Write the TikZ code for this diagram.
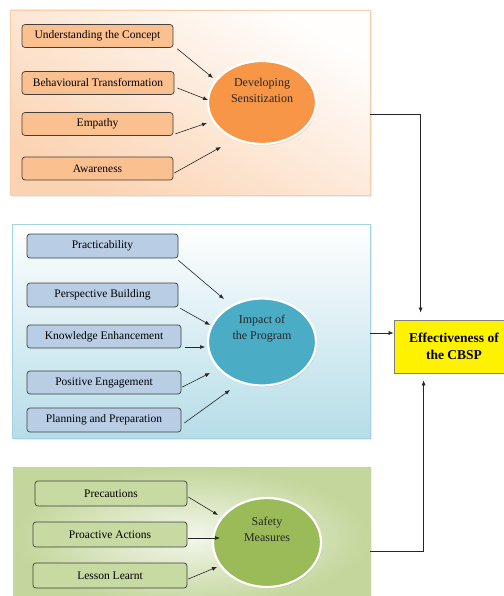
\documentclass[tikz,border=0pt]{standalone}
\usepackage{fontspec}
\setmainfont{Liberation Serif}
\usepackage{tikz}
\usetikzlibrary{positioning}
\usetikzlibrary{shapes.geometric}
\usetikzlibrary{shadows}
\usetikzlibrary{arrows.meta}
\usepackage{xcolor}

\definecolor{peach}{HTML}{FBD3B2}
\definecolor{peachline}{HTML}{F8CDAA}
\definecolor{orangebox}{HTML}{FAC090}
\definecolor{orangeoval}{HTML}{F79646}
\definecolor{skyblue}{HTML}{B6DDE8}
\definecolor{skyline}{HTML}{A5D2E2}
\definecolor{bluebox}{HTML}{B9CDE5}
\definecolor{tealoval}{HTML}{4BACC6}
\definecolor{olive}{HTML}{C3D69B}
\definecolor{greenbox}{HTML}{C7DAA2}
\definecolor{greenoval}{HTML}{9BBB59}

\begin{document}
\begin{tikzpicture}[x=1pt,y=-1pt,
  item/.style={draw=black!75, line width=0.7pt, rounded corners=3pt,
    minimum height=23pt, inner sep=1pt, font=\fontsize{11.5}{13}\selectfont},
  oval/.style={ellipse, draw=white, line width=2.2pt, minimum width=108pt,
    inner sep=0pt, drop shadow={opacity=0.25,shadow xshift=1pt,shadow yshift=-1.5pt}},
  ovaltext/.style={align=center, font=\fontsize{12}{16}\selectfont, text=black!85},
  panel/.style={rectangle, inner sep=0pt, line width=0.6pt,
    drop shadow={opacity=0.15,shadow xshift=1.5pt,shadow yshift=-1.5pt}},
  arr/.style={-{Latex[length=5pt,width=4pt]}, line width=0.6pt, black!85}]

\useasboundingbox (0,0) rectangle (503,596);

% panels
\node[panel, draw=peachline, top color=white!97!peach, bottom color=peach, shading angle=-30,
  minimum width=360pt, minimum height=185pt] (p1) at (190,102.5) {};
\node[panel, draw=skyline, top color=white, bottom color=skyblue,
  minimum width=358pt, minimum height=214pt] (p2) at (191,331) {};
\node[panel, draw=olive, inner color=white!80!olive, outer color=olive,
  minimum width=357pt, minimum height=140pt] (p3) at (191.5,537) {};

% developing sensitization
\node[item, fill=orangebox, minimum width=151pt] (uc) at (97.5,36) {Understanding the Concept};
\node[item, fill=orangebox, minimum width=152pt] (bt) at (98,83) {Behavioural Transformation};
\node[item, fill=orangebox, minimum width=151pt] (em) at (97.5,124) {Empathy};
\node[item, fill=orangebox, minimum width=151pt] (aw) at (97.5,168.5) {Awareness};
\node[oval, fill=orangeoval, minimum height=83pt,
  label={[ovaltext, yshift=12pt]center:Developing\\Sensitization}] (dev) at (262,102.5) {};

\draw[arr] ([shift={(4,1)}]uc.south east) -- ([shift={(-49,-24.5)}]dev.center);
\draw[arr] ([shift={(3,5)}]bt.east) -- ([shift={(-54,-2.5)}]dev.center);
\draw[arr] ([shift={(2,-2)}]em.south east) -- ([shift={(-55,20.5)}]dev.center);
\draw[arr] ([shift={(1,4.5)}]aw.east) -- ([shift={(-41,44.5)}]dev.center);

% impact of the program
\node[item, fill=bluebox, minimum width=151pt, minimum height=24pt] (pr) at (102.5,246) {Practicability};
\node[item, fill=bluebox, minimum width=151pt, minimum height=24pt] (pb) at (102.5,295) {Perspective Building};
\node[item, fill=bluebox, minimum width=154pt] (ke) at (104,336.5) {Knowledge Enhancement};
\node[item, fill=bluebox, minimum width=154pt] (pe) at (104,382.5) {Positive Engagement};
\node[item, fill=bluebox, minimum width=154pt, minimum height=24pt] (pp) at (104,420) {Planning and Preparation};
\node[oval, fill=tealoval, minimum height=87pt,
  label={[ovaltext, yshift=13.5pt]center:Impact of\\the Program}] (imp) at (262,342) {};

\draw[arr] ([shift={(0,2)}]pr.south east) -- ([shift={(-38,-43)}]imp.center);
\draw[arr] ([shift={(2,1)}]pb.south east) -- ([shift={(-52,-17)}]imp.center);
\draw[arr] ([shift={(4,10.5)}]ke.east) -- ([shift={(-57,5)}]imp.center);
\draw[arr] ([shift={(1,4.5)}]pe.east) -- ([shift={(-52,31)}]imp.center);
\draw[arr] ([shift={(3,3)}]pp.east) -- ([shift={(-32,48)}]imp.center);

% safety measures
\node[item, fill=greenbox, minimum width=152pt, minimum height=25pt] (pc) at (111,493.5) {Precautions};
\node[item, fill=greenbox, minimum width=154pt, minimum height=25pt] (pa) at (110,534.5) {Proactive Actions};
\node[item, fill=greenbox, minimum width=154pt, minimum height=25pt] (ll) at (110,575.5) {Lesson Learnt};
\node[oval, fill=greenoval, minimum height=89pt,
  label={[ovaltext, yshift=13pt]center:Safety\\Measures}] (saf) at (267,542.5) {};

\draw[arr] ([shift={(1,3.5)}]pc.east) -- ([shift={(-49,-27.5)}]saf.center);
\draw[arr] ([shift={(1,3.5)}]pa.east) -- ([shift={(-47,-4.5)}]saf.center);
\draw[arr] ([shift={(1,3.5)}]ll.east) -- ([shift={(-50,24.5)}]saf.center);

% effectiveness
\node[draw=black!50, line width=0.8pt, fill=yellow, minimum width=120pt, minimum height=53pt,
  align=center, font=\bfseries\fontsize{13.5}{17}\selectfont] (cbsp) at (454,346.5) {Effectiveness of\\the CBSP};

\draw[arr, shorten >=7pt] ([yshift=-11.5pt]p1.east) -| ([xshift=27pt]cbsp.north west);
\draw[arr] ([yshift=-2pt]p2.east) -- ([yshift=-2pt]p2.east -| cbsp.west);
\draw[arr, shorten >=7pt] ([yshift=-14pt]p3.east) -| ([xshift=30pt]cbsp.south west);

\end{tikzpicture}
\end{document}
